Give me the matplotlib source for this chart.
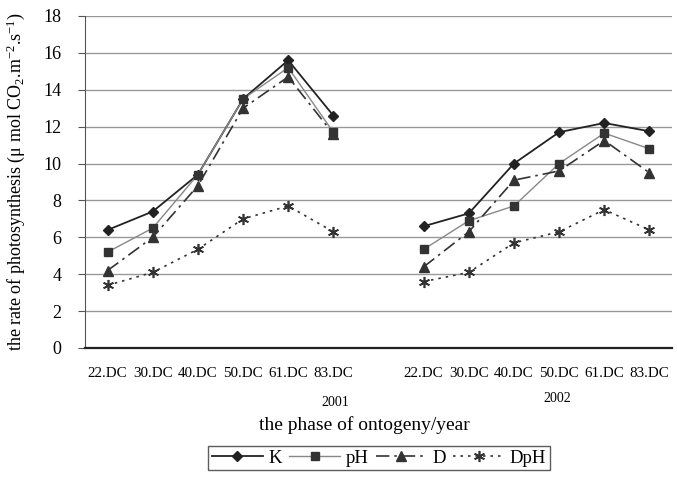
import matplotlib
matplotlib.use("Agg")
import matplotlib.pyplot as plt
import numpy as np

phases = ["22.DC", "30.DC", "40.DC", "50.DC", "61.DC", "83.DC"]
years = ["2001", "2002"]

K_2001 = [6.4, 7.4, 9.4, 13.5, 15.6, 12.6]
K_2002 = [6.6, 7.3, 10.0, 11.7, 12.2, 11.75]
pH_2001 = [5.2, 6.5, 9.4, 13.5, 15.2, 11.7]
pH_2002 = [5.35, 6.9, 7.7, 10.0, 11.65, 10.8]
D_2001 = [4.2, 6.0, 8.8, 13.0, 14.7, 11.6]
D_2002 = [4.4, 6.3, 9.1, 9.6, 11.25, 9.5]
DpH_2001 = [3.4, 4.1, 5.35, 7.0, 7.7, 6.3]
DpH_2002 = [3.6, 4.1, 5.7, 6.3, 7.5, 6.4]

plt.rcParams['font.family'] = ['Liberation Serif', 'DejaVu Serif']
plt.rcParams['mathtext.fontset'] = 'custom'
plt.rcParams['mathtext.rm'] = 'Liberation Serif'
plt.rcParams['mathtext.it'] = 'Liberation Serif:italic'
plt.rcParams['mathtext.default'] = 'regular'

fig = plt.figure(figsize=(6.77, 4.79), dpi=100)
ax = fig.add_axes([85/677, 1 - 348/479, (672-85)/677, (348-16)/479])

x1 = np.arange(6)
x2 = np.arange(7, 13)

styles = [
    ("K", K_2001, K_2002, dict(color="#222222", lw=1.3, ls="-", marker="D", ms=5)),
    ("pH", pH_2001, pH_2002, dict(color="#888888", lw=1.0, ls="-", marker="s", ms=6,
                                   mfc="#333333", mec="#333333")),
    ("D", D_2001, D_2002, dict(color="#333333", lw=1.2, ls=(0, (8, 3, 1.5, 3)), marker="^", ms=6.5)),
    ("DpH", DpH_2001, DpH_2002, dict(color="#333333", lw=1.2, ls=(0, (1.5, 3)), marker=(6, 2, 0), ms=8,
                                      mew=1.2)),
]

handles = []
for name, a, b, kw in styles:
    h, = ax.plot(x1, a, label=name, **kw)
    ax.plot(x2, b, **kw)
    handles.append(h)

ax.set_xlim(-0.5, 12.5)
ax.set_ylim(0, 18)
ax.set_yticks(np.arange(0, 19, 2))
ax.set_xticks(list(x1) + list(x2))
ax.set_xticklabels(phases + phases, fontsize=10.8)
ax.tick_params(axis='x', length=0, pad=14)
ax.tick_params(axis='y', labelsize=13, length=5, color="#555555", pad=12)
ax.yaxis.grid(True, color="#999999", lw=1.0)
ax.set_axisbelow(True)
for s in ["top", "right"]:
    ax.spines[s].set_visible(False)
ax.spines["left"].set_color("#555555")
ax.spines["bottom"].set_color("#222222")
ax.spines["bottom"].set_linewidth(1.6)

ax.set_ylabel("the rate of photosynthesis (\u03bc mol CO$_{2}$.m$^{-2}$.s$^{-1}$)",
              fontsize=13, labelpad=12)

fig.text(335/677, 1 - 402/479, years[0], fontsize=10, ha="center", va="center")
fig.text(557/677, 1 - 398/479, years[1], fontsize=10, ha="center", va="center")
fig.text(364/677, 1 - 425/479, "the phase of ontogeny/year", fontsize=14, ha="center", va="center")

leg = fig.legend(handles=handles, loc="center", bbox_to_anchor=(379/677, 1 - 458/479),
                 ncol=4, fontsize=13.5, frameon=True, fancybox=False, edgecolor="#333333",
                 handlelength=2.7, columnspacing=0.4, handletextpad=0.3, borderpad=0.2,
                 borderaxespad=0)
leg.get_frame().set_linewidth(1.0)

fig.savefig("out.png", dpi=100)
